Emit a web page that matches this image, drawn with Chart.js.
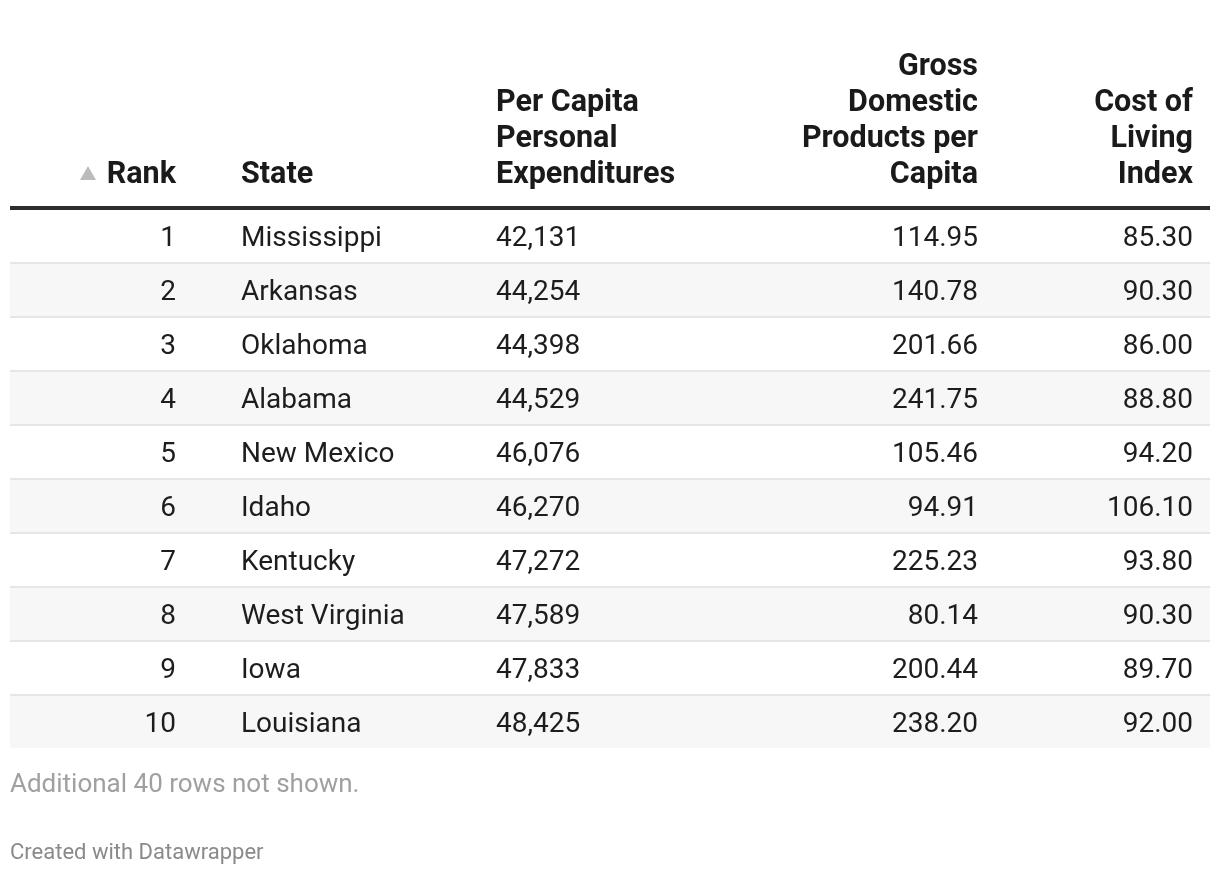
<!DOCTYPE html>
<html>
<head>
<meta charset="utf-8">
<script src="https://cdn.jsdelivr.net/npm/chart.js@4.4.1/dist/chart.umd.min.js"></script>
<style>
  html, body { margin: 0; padding: 0; background: #fff; }
  canvas { display: block; }
</style>
</head>
<body>
<canvas id="tbl" width="1220" height="874"></canvas>
<script>
// Table data.
const ranks = [1, 2, 3, 4, 5, 6, 7, 8, 9, 10];
const states = ['Mississippi', 'Arkansas', 'Oklahoma', 'Alabama', 'New Mexico', 'Idaho', 'Kentucky', 'West Virginia', 'Iowa', 'Louisiana'];
const expenditures = [42131, 44254, 44398, 44529, 46076, 46270, 47272, 47589, 47833, 48425];
const gdpPerCapita = [114.95, 140.78, 201.66, 241.75, 105.46, 94.91, 225.23, 80.14, 200.44, 238.20];
const costOfLiving = [85.30, 90.30, 86.00, 88.80, 94.20, 106.10, 93.80, 90.30, 89.70, 92.00];

const headers = [
  { lines: ['Rank'], x: 176, align: 'right' },
  { lines: ['State'], x: 241, align: 'left' },
  { lines: ['Per Capita', 'Personal', 'Expenditures'], x: 496, align: 'left' },
  { lines: ['Gross', 'Domestic', 'Products per', 'Capita'], x: 978, align: 'right' },
  { lines: ['Cost of', 'Living', 'Index'], x: 1193, align: 'right' },
];
const note = 'Additional 40 rows not shown.';
const credit = 'Created with Datawrapper';

const FONT = 'Roboto, "Noto Sans", sans-serif';
const fmtInt = (v) => v.toLocaleString('en-US');
const fmt2 = (v) => v.toFixed(2);

// Zebra stripes: every second row gets a full-width bar.
const stripes = ranks.map((r, i) => (i % 2 === 1 ? 1 : null));

const tablePlugin = {
  id: 'tableText',
  afterDatasetsDraw(chart) {
    // 2px row separators on top of the stripes
    const { ctx, chartArea: a, scales: { y } } = chart;
    ctx.save();
    ctx.fillStyle = '#e6e6e6';
    for (let i = 0; i < states.length - 1; i++) {
      const yb = Math.round((y.getPixelForValue(i) + y.getPixelForValue(i + 1)) / 2);
      ctx.fillRect(a.left, yb, a.right - a.left, 2);
    }
    ctx.restore();
  },
  afterDraw(chart) {
    const { ctx, chartArea: a, scales: { y } } = chart;
    ctx.save();

    // header
    ctx.fillStyle = '#1a1a1a';
    ctx.font = 'bold 30.5px ' + FONT;
    ctx.textBaseline = 'alphabetic';
    headers.forEach((h) => {
      ctx.textAlign = h.align;
      const n = h.lines.length;
      h.lines.forEach((t, k) => ctx.fillText(t, h.x, 183 - (n - 1 - k) * 36));
    });

    // sort arrow
    ctx.fillStyle = '#bbbbbb';
    ctx.beginPath();
    ctx.moveTo(80, 180);
    ctx.lineTo(96, 180);
    ctx.lineTo(88, 166);
    ctx.closePath();
    ctx.fill();

    // thick rule under header
    ctx.fillStyle = '#2d2d2d';
    ctx.fillRect(a.left, 206, a.right - a.left, 4);

    // cells
    ctx.fillStyle = '#1d1d1d';
    ctx.font = '28px ' + FONT;
    ctx.textBaseline = 'middle';
    states.forEach((s, i) => {
      const yc = y.getPixelForValue(i) + 4;
      ctx.textAlign = 'right';
      ctx.fillText(String(ranks[i]), 176, yc);
      ctx.textAlign = 'left';
      ctx.fillText(s, 241, yc);
      ctx.fillText(fmtInt(expenditures[i]), 496, yc);
      ctx.textAlign = 'right';
      ctx.fillText(fmt2(gdpPerCapita[i]), 978, yc);
      ctx.fillText(fmt2(costOfLiving[i]), 1193, yc);
    });

    // footer
    ctx.textAlign = 'left';
    ctx.fillStyle = '#a0a0a0';
    ctx.font = '26px ' + FONT;
    ctx.fillText(note, 10, 785);
    ctx.fillStyle = '#8a8a8a';
    ctx.font = '22px ' + FONT;
    ctx.fillText(credit, 10, 853);
    ctx.restore();
  },
};

new Chart(document.getElementById('tbl').getContext('2d'), {
  type: 'bar',
  data: {
    labels: states,
    datasets: [{
      data: stripes,
      backgroundColor: '#f7f7f7',
      borderWidth: 0,
      categoryPercentage: 1,
      barPercentage: 1,
    }],
  },
  options: {
    indexAxis: 'y',
    responsive: false,
    animation: false,
    events: [],
    layout: { padding: { top: 208, bottom: 126, left: 10, right: 10 } },
    plugins: { legend: { display: false }, tooltip: { enabled: false } },
    scales: {
      x: { display: false, min: 0, max: 1 },
      y: { display: false },
    },
  },
  plugins: [tablePlugin],
});
</script>
</body>
</html>
